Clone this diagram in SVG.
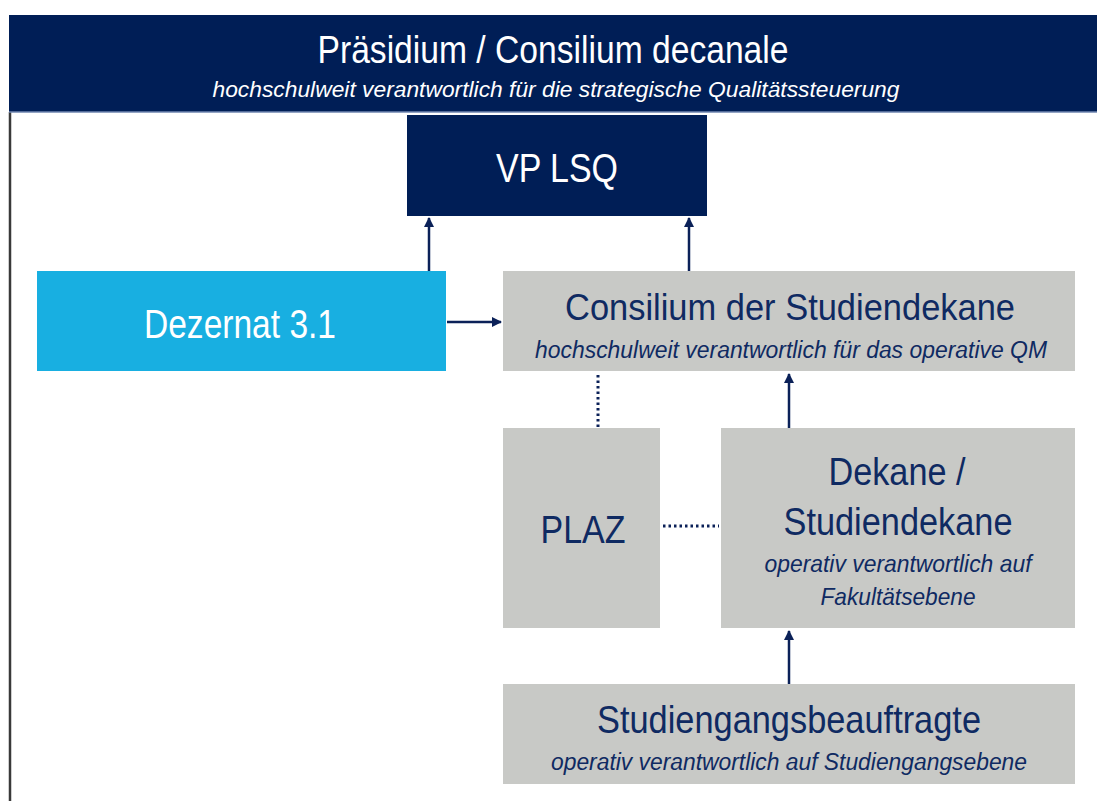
<svg xmlns="http://www.w3.org/2000/svg" width="1097" height="801" viewBox="0 0 1097 801">
  <defs>
    <marker id="arr" viewBox="0 0 10 10" refX="9" refY="5" markerWidth="4" markerHeight="4" orient="auto" markerUnits="strokeWidth">
      <path d="M0,0 L10,5 L0,10 Z" fill="#0b2158"/>
    </marker>
    <style>
      .t { font-family: "Liberation Sans", Arial, sans-serif; text-anchor: middle; }
      .w { fill: #ffffff; }
      .n { fill: #0f2a62; }
      .it { font-style: italic; }
      .gray { fill: #c8c9c6; }
      .conn { stroke: #0b2158; stroke-width: 2.5; fill: none; }
      .dot { stroke: #0b2158; stroke-width: 3; stroke-dasharray: 2.5 3; fill: none; }
    </style>
  </defs>
  <rect x="0" y="0" width="1097" height="801" fill="#ffffff"/>
  <line x1="10" y1="112" x2="10" y2="801" stroke="#3a3a3a" stroke-width="2.5"/>

  <g id="praesidium">
    <rect x="9" y="15" width="1088" height="97" fill="#001e56"/>
    <line x1="9" y1="112" x2="1097" y2="112" stroke="#6f86b0" stroke-width="1.5"/>
    <text class="t w" x="553" y="63" font-size="38" textLength="471" lengthAdjust="spacingAndGlyphs">Präsidium / Consilium decanale</text>
    <text class="t w it" x="556" y="97" font-size="22" textLength="687" lengthAdjust="spacingAndGlyphs">hochschulweit verantwortlich für die strategische Qualitätssteuerung</text>
  </g>

  <g id="vp-lsq">
    <rect x="407" y="115" width="300" height="101" fill="#001e56"/>
    <text class="t w" x="557" y="182" font-size="40" textLength="122" lengthAdjust="spacingAndGlyphs">VP LSQ</text>
  </g>

  <g id="dezernat">
    <rect x="37" y="271" width="409" height="100" fill="#18afe1"/>
    <text class="t w" x="240" y="338" font-size="41" textLength="192" lengthAdjust="spacingAndGlyphs">Dezernat 3.1</text>
  </g>

  <g id="consilium">
    <rect class="gray" x="503" y="271" width="572" height="100"/>
    <text class="t n" x="790" y="320" font-size="37" textLength="450" lengthAdjust="spacingAndGlyphs">Consilium der Studiendekane</text>
    <text class="t n it" x="791" y="358" font-size="23" textLength="512" lengthAdjust="spacingAndGlyphs">hochschulweit verantwortlich für das operative QM</text>
  </g>

  <g id="plaz">
    <rect class="gray" x="503" y="428" width="157" height="200"/>
    <text class="t n" x="583" y="543" font-size="39" textLength="85" lengthAdjust="spacingAndGlyphs">PLAZ</text>
  </g>

  <g id="dekane">
    <rect class="gray" x="721" y="428" width="354" height="200"/>
    <text class="t n" x="897" y="485" font-size="39" textLength="137" lengthAdjust="spacingAndGlyphs">Dekane /</text>
    <text class="t n" x="898" y="535" font-size="39" textLength="229" lengthAdjust="spacingAndGlyphs">Studiendekane</text>
    <text class="t n it" x="898" y="572" font-size="24" textLength="267" lengthAdjust="spacingAndGlyphs">operativ verantwortlich auf</text>
    <text class="t n it" x="898" y="605" font-size="24" textLength="155" lengthAdjust="spacingAndGlyphs">Fakultätsebene</text>
  </g>

  <g id="studiengangsbeauftragte">
    <rect class="gray" x="503" y="684" width="572" height="100"/>
    <text class="t n" x="789" y="733" font-size="39" textLength="384" lengthAdjust="spacingAndGlyphs">Studiengangsbeauftragte</text>
    <text class="t n it" x="789" y="770" font-size="23" textLength="476" lengthAdjust="spacingAndGlyphs">operativ verantwortlich auf Studiengangsebene</text>
  </g>

  <g id="connectors">
    <line class="conn" x1="429" y1="271" x2="429" y2="218" marker-end="url(#arr)"/>
    <line class="conn" x1="689" y1="271" x2="689" y2="218" marker-end="url(#arr)"/>
    <line class="conn" x1="447" y1="322" x2="501" y2="322" marker-end="url(#arr)"/>
    <line class="conn" x1="789" y1="428" x2="789" y2="374" marker-end="url(#arr)"/>
    <line class="conn" x1="789" y1="684" x2="789" y2="631" marker-end="url(#arr)"/>
    <line class="dot" x1="598" y1="375" x2="598" y2="427"/>
    <line class="dot" x1="663" y1="526" x2="719" y2="526"/>
  </g>
</svg>
